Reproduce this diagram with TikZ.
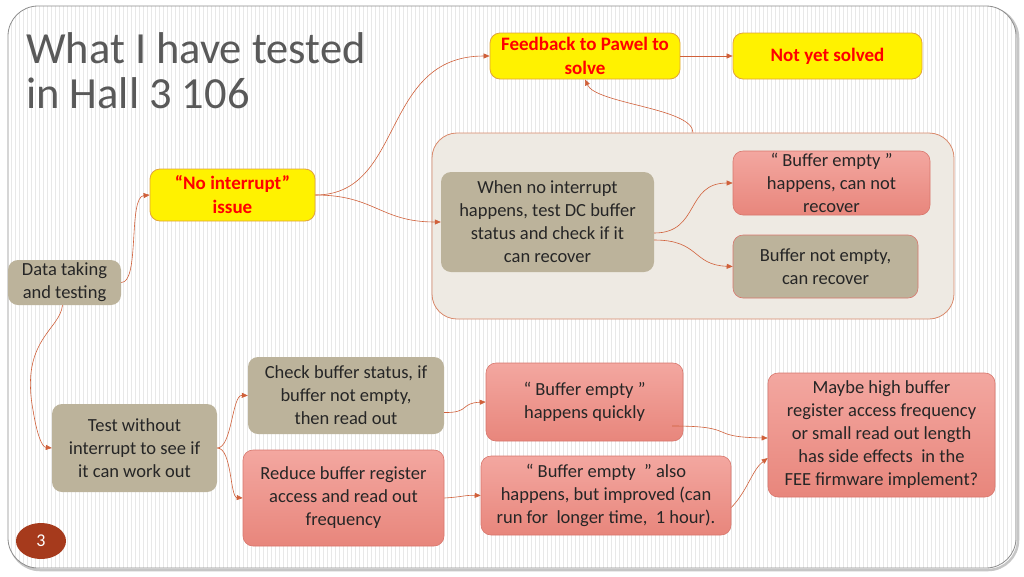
\documentclass[tikz,border=0pt]{standalone}
\usepackage{fontspec}
\setmainfont{Carlito}
\usetikzlibrary{arrows.meta,shapes.geometric}
\definecolor{tanc}{HTML}{BCB39B}
\definecolor{contfill}{HTML}{EEEAE3}
\definecolor{contline}{HTML}{D9896B}
\definecolor{salmtop}{HTML}{F3A7A0}
\definecolor{salmbot}{HTML}{E8867C}
\definecolor{salmline}{HTML}{D8766C}
\definecolor{yelline}{HTML}{E2A43A}
\definecolor{arrowc}{HTML}{D0603A}
\definecolor{txt}{HTML}{262626}
\definecolor{titlec}{HTML}{595959}
\definecolor{pagec}{HTML}{A63A1C}
\definecolor{stripec}{HTML}{E8E8E8}
\definecolor{framec}{HTML}{8C8C8C}
\tikzset{
  base/.style={rounded corners=10pt, align=center, inner sep=2pt, font=\fontsize{18.5}{23}\selectfont, text=txt},
  tanbox/.style={base, fill=tanc},
  salmbox/.style={base, draw=salmline, line width=0.6pt, top color=salmtop, bottom color=salmbot},
  yelbox/.style={base, fill=yellow, draw=yelline, line width=0.8pt, text=red, font=\fontsize{19}{24}\selectfont\bfseries},
  conn/.style={draw=arrowc, line width=0.6pt, -{Triangle[length=6pt,width=5pt]}},
}
\begin{document}
\begin{tikzpicture}[x=1pt,y=-1pt]
\useasboundingbox (0,0) rectangle (1024,576);
\fill[white] (0,0) rectangle (1024,576);
% frame shadow
\draw[gray!45, line width=2.5pt, rounded corners=30pt] (10,8) rectangle (1018,570);
\begin{scope}
\clip[rounded corners=30pt] (8,6) rectangle (1016,568);
\fill[white] (8,6) rectangle (1016,568);
\foreach \x in {11,15,...,1015} \draw[stripec, line width=0.8pt] (\x,6) -- (\x,568);
\end{scope}
\draw[framec, line width=0.8pt, rounded corners=30pt] (8,6) rectangle (1016,568);

% title
\node[anchor=base west, inner sep=0, text=titlec, font=\fontsize{44.5}{46}\selectfont] (t1) at (26,63) {What I have tested};
\node[anchor=base west, inner sep=0, text=titlec, font=\fontsize{44.5}{46}\selectfont] (t2) at (26,108) {in Hall 3 106};

% container
\node[draw=contline, fill=contfill, line width=0.8pt, rounded corners=25pt, minimum width=522pt, minimum height=186pt] (cont) at (693,226) {};

% nodes
\node[yelbox, minimum width=190pt, minimum height=46pt] (fb) at (585,56) {Feedback to Pawel to\\solve};
\node[yelbox, minimum width=189pt, minimum height=46pt] (nys) at (827.5,56) {Not yet solved};
\node[yelbox, minimum width=165pt, minimum height=52pt] (noi) at (232.5,195) {“No interrupt”\\issue};
\node[tanbox, minimum width=113pt, minimum height=45pt] (data) at (64.5,282.5) {Data taking\\and testing};
\node[tanbox, minimum width=213pt, minimum height=100pt] (when) at (547.5,222) {When no interrupt\\happens, test DC buffer\\status and check if it\\can recover};
\node[salmbox, minimum width=197pt, minimum height=64pt] (bec) at (831.5,183) {“ Buffer empty ”\\happens, can not\\recover};
\node[tanbox, draw=salmline, line width=0.6pt, minimum width=185pt, minimum height=63pt] (bne) at (825.5,266.5) {Buffer not empty,\\can recover};
\node[tanbox, minimum width=165pt, minimum height=88pt] (test) at (134.5,448) {Test without\\interrupt to see if\\it can work out};
\node[tanbox, minimum width=196pt, minimum height=77pt] (check) at (346,395.5) {Check buffer status, if\\buffer not empty,\\then read out};
\node[salmbox, minimum width=201pt, minimum height=96pt] (reduce) at (343.5,498) {Reduce buffer register\\access and read out\\frequency};
\node[salmbox, minimum width=197pt, minimum height=78pt] (quick) at (584.5,402) {“ Buffer empty ”\\happens quickly};
\node[salmbox, minimum width=250pt, minimum height=79pt] (also) at (606,495.5) {“ Buffer empty ~” also\\happens, but improved (can\\run for~ longer time,~ 1 hour).};
\node[salmbox, minimum width=227pt, minimum height=124pt] (maybe) at (881.5,435) {Maybe high buffer\\register access frequency\\or small read out length\\has side effects~ in the\\FEE firmware implement?};
\node[ellipse, fill=pagec, minimum width=50pt, minimum height=36pt, text=white, font=\fontsize{18}{20}\selectfont] (page) at (41,541) {3};

% connectors
\draw[conn] (fb.east) -- (nys.west);
\draw[conn] (cont.north) .. controls (693,108) and (596,104) .. (fb.south);
\draw[conn] (data.east) .. controls (140,283) and (128,197) .. (noi.west);
\draw[conn] (noi.east) .. controls (405,195) and (380,56) .. (fb.west);
\draw[conn] (noi.east) .. controls (375,195) and (380,222) .. (when.west);
\draw[conn] ([yshift=-11pt]when.east) .. controls (700,233) and (685,183) .. (bec.west);
\draw[conn] ([yshift=-18pt]when.east) .. controls (700,240) and (692,265) .. (bne.west);
\draw[conn] ([xshift=-2pt]data.south) .. controls (60,330) and (20,340) .. (33,410) .. controls (37,435) and (42,447) .. (test.west);
\draw[conn] (test.east) .. controls (232,448) and (232,395) .. (check.west);
\draw[conn] (test.east) .. controls (232,448) and (230,497) .. (reduce.west);
\draw[conn] ([yshift=-17pt]check.east) .. controls (470,413) and (460,403) .. (quick.west);
\draw[conn] (reduce.east) .. controls (462,497) and (465,495) .. (also.west);
\coordinate (qs) at (672,426);
\draw[conn] (qs) .. controls (740,426) and (705,437) .. ([yshift=-3pt]maybe.west);
\draw[conn] ([yshift=-12pt]also.east) .. controls (748,490) and (752,470) .. ([yshift=-23pt]maybe.west);
\end{tikzpicture}
\end{document}
